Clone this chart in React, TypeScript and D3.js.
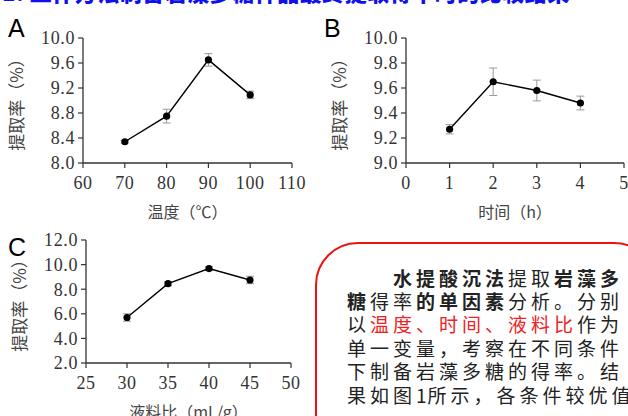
import React from "react";
import * as d3 from "d3";

// Panel A: temperature
const tempX = [70, 80, 90, 100];
const tempY = [8.34, 8.75, 9.65, 9.09];
const tempErr = [0.02, 0.11, 0.1, 0.06];
const tempTicksX = [60, 70, 80, 90, 100, 110];
const tempTicksY = [8.0, 8.4, 8.8, 9.2, 9.6, 10.0];

// Panel B: time
const timeX = [1, 2, 3, 4];
const timeY = [9.27, 9.65, 9.58, 9.48];
const timeErr = [0.037, 0.11, 0.083, 0.055];
const timeTicksX = [0, 1, 2, 3, 4, 5];
const timeTicksY = [9.0, 9.2, 9.4, 9.6, 9.8, 10.0];

// Panel C: liquid-solid ratio
const ratioX = [30, 35, 40, 45];
const ratioY = [5.7, 8.45, 9.68, 8.75];
const ratioErr = [0.3, 0.15, 0.15, 0.3];
const ratioTicksX = [25, 30, 35, 40, 45, 50];
const ratioTicksY = [2.0, 4.0, 6.0, 8.0, 10.0, 12.0];

const yTitle = "提取率（%）";
const titleText = "1. 工作方法制备岩藻多糖样品最终提取得率时的比较结果";

type PanelProps = {
  letter: string;
  xs: number[];
  ys: number[];
  errs: number[];
  ticksX: number[];
  ticksY: number[];
  xTitle: string;
  left: number;
  right: number;
  top: number;
  bottom: number;
  letterX: number;
  letterY: number;
};

const SERIF = "'Liberation Serif', 'DejaVu Serif', serif";
const CJK = "'Noto Sans CJK SC', sans-serif";

function Panel(p: PanelProps) {
  const x = d3.scaleLinear().domain([p.ticksX[0], p.ticksX[p.ticksX.length - 1]]).range([p.left, p.right]);
  const y = d3.scaleLinear().domain([p.ticksY[0], p.ticksY[p.ticksY.length - 1]]).range([p.bottom, p.top]);
  const pts = p.xs.map((v, i) => [v, p.ys[i]] as [number, number]);
  const line = d3.line<[number, number]>().x((d) => x(d[0])).y((d) => y(d[1]));
  const fmt = d3.format(".1f");
  const axisColor = "#333";
  return (
    <g>
      <text x={p.letterX} y={p.letterY} fontFamily="'Liberation Sans', Arial, sans-serif" fontSize={25} fill="#000">
        {p.letter}
      </text>
      {/* y axis */}
      <line x1={p.left} x2={p.left} y1={p.top} y2={p.bottom} stroke={axisColor} strokeWidth={1.3} />
      {p.ticksY.map((t) => (
        <g key={"y" + t}>
          <line x1={p.left - 5} x2={p.left} y1={y(t)} y2={y(t)} stroke={axisColor} strokeWidth={1.2} />
          <text x={p.left - 8} y={y(t)} dy="0.35em" textAnchor="end" fontFamily={SERIF} fontSize={18} letterSpacing={0.6} fill="#333">
            {fmt(t)}
          </text>
        </g>
      ))}
      {/* x axis */}
      <line x1={p.left} x2={p.right} y1={p.bottom} y2={p.bottom} stroke={axisColor} strokeWidth={1.3} />
      {p.ticksX.map((t) => (
        <g key={"x" + t}>
          <line x1={x(t)} x2={x(t)} y1={p.bottom} y2={p.bottom + 5} stroke={axisColor} strokeWidth={1.2} />
          <text x={x(t)} y={p.bottom + 20} dy="0.35em" textAnchor="middle" fontFamily={SERIF} fontSize={18} letterSpacing={0.6} fill="#333">
            {t}
          </text>
        </g>
      ))}
      <text
        x={(p.left + p.right) / 2}
        y={p.bottom + 49}
        dy="0.35em"
        textAnchor="middle"
        fontFamily={CJK}
        fontSize={16}
        fill="#444"
      >
        {p.xTitle}
      </text>
      <text
        transform={`translate(${p.left - 66},${(p.top + p.bottom) / 2}) rotate(-90)`}
        dy="0.35em"
        textAnchor="middle"
        fontFamily={CJK}
        fontSize={17}
        fill="#444"
      >
        {yTitle}
      </text>
      {/* error bars */}
      {pts.map((d, i) => (
        <g key={"e" + i} stroke="#999" strokeWidth={1}>
          <line x1={x(d[0])} x2={x(d[0])} y1={y(d[1] - p.errs[i])} y2={y(d[1] + p.errs[i])} />
          <line x1={x(d[0]) - 4} x2={x(d[0]) + 4} y1={y(d[1] - p.errs[i])} y2={y(d[1] - p.errs[i])} />
          <line x1={x(d[0]) - 4} x2={x(d[0]) + 4} y1={y(d[1] + p.errs[i])} y2={y(d[1] + p.errs[i])} />
        </g>
      ))}
      <path d={line(pts) || ""} fill="none" stroke="#000" strokeWidth={1.4} />
      {pts.map((d, i) => (
        <circle key={"c" + i} cx={x(d[0])} cy={y(d[1])} r={3.6} fill="#000" />
      ))}
    </g>
  );
}

type Seg = { t: string; bold?: boolean; red?: boolean };
const textLines: { indent: number; segs: Seg[] }[] = [
  { indent: 2, segs: [{ t: "水提酸沉法", bold: true }, { t: "提取" }, { t: "岩藻多", bold: true }] },
  { indent: 0, segs: [{ t: "糖", bold: true }, { t: "得率" }, { t: "的单因素", bold: true }, { t: "分析。分别" }] },
  { indent: 0, segs: [{ t: "以" }, { t: "温度、时间、液料比", red: true }, { t: "作为" }] },
  { indent: 0, segs: [{ t: "单一变量，考察在不同条件" }] },
  { indent: 0, segs: [{ t: "下制备岩藻多糖的得率。结" }] },
  { indent: 0, segs: [{ t: "果如图1所示，各条件较优值" }] },
];

function TextBox() {
  const x0 = 347;
  const pitch = 23;
  const y0 = 279;
  const lh = 23.4;
  const items: React.ReactNode[] = [];
  textLines.forEach((ln, li) => {
    let col = ln.indent;
    ln.segs.forEach((s, si) => {
      Array.from(s.t).forEach((ch, ci) => {
        const isDigit = /[0-9]/.test(ch);
        items.push(
          <text
            key={`${li}-${si}-${ci}`}
            x={x0 + col * pitch}
            y={y0 + li * lh}
            dy="0.35em"
            fontFamily={CJK}
            fontSize={19}
            fontWeight={s.bold ? 700 : 400}
            fill={s.red ? "#ee2222" : "#222"}
          >
            {ch}
          </text>
        );
        col += isDigit ? 0.5 : 1;
      });
    });
  });
  return (
    <g>
      <rect x={316} y={243} width={340} height={220} rx={42} ry={42} fill="#fff" stroke="#ee1111" strokeWidth={2} />
      {items}
    </g>
  );
}

export default function App() {
  return (
    <svg
      width={628}
      height={416}
      style={{ position: "absolute", left: 0, top: 0, background: "#fff" }}
    >
      <rect x={0} y={0} width={628} height={416} fill="#fff" />
      <text x={2} y={1} fontFamily={CJK} fontSize={22} fontWeight={900} fill="#1010ee" letterSpacing={0.5}>
        {titleText}
      </text>
      <Panel
        letter="A" xs={tempX} ys={tempY} errs={tempErr} ticksX={tempTicksX} ticksY={tempTicksY}
        xTitle="温度（℃）" left={83} right={292} top={38} bottom={163} letterX={8} letterY={37}
      />
      <Panel
        letter="B" xs={timeX} ys={timeY} errs={timeErr} ticksX={timeTicksX} ticksY={timeTicksY}
        xTitle="时间（h）" left={406} right={624} top={38} bottom={163} letterX={324} letterY={37}
      />
      <Panel
        letter="C" xs={ratioX} ys={ratioY} errs={ratioErr} ticksX={ratioTicksX} ticksY={ratioTicksY}
        xTitle="液料比（mL/g）" left={86} right={291} top={240} bottom={363} letterX={8} letterY={256}
      />
      <TextBox />
    </svg>
  );
}
